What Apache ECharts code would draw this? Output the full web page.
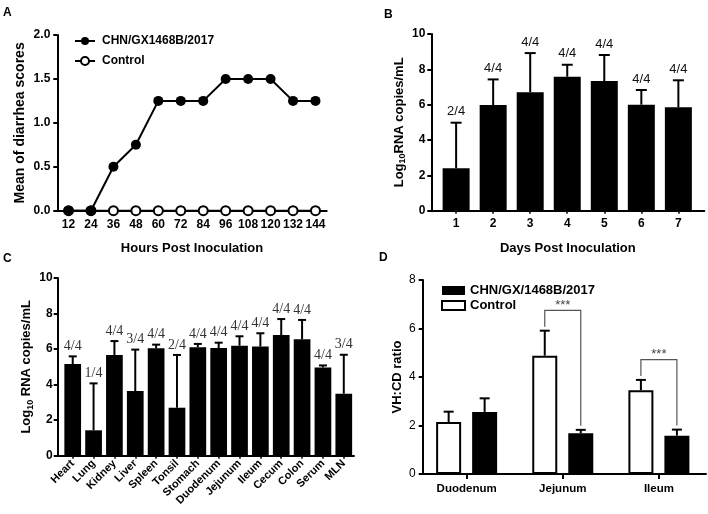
<!DOCTYPE html>
<html><head><meta charset="utf-8">
<script src="https://cdn.jsdelivr.net/npm/echarts@6/dist/echarts.min.js"></script>
<style>html,body{margin:0;padding:0;background:#fff}#c{width:708px;height:514px}</style>
</head><body><div id="c"></div>
<script>
// ---- Panel A: diarrhea scores ----
const hoursPostInoculation = [12, 24, 36, 48, 60, 72, 84, 96, 108, 120, 132, 144];
const diarrheaInfected = [0, 0, 0.5, 0.75, 1.25, 1.25, 1.25, 1.5, 1.5, 1.5, 1.25, 1.25];
const diarrheaControl = [0, 0, 0, 0, 0, 0, 0, 0, 0, 0, 0, 0];
// ---- Panel B: fecal shedding ----
const daysPostInoculation = [1, 2, 3, 4, 5, 6, 7];
const fecalMean = [2.40, 5.98, 6.71, 7.58, 7.34, 6.00, 5.85];
const fecalSD = [2.58, 1.45, 2.21, 0.68, 1.47, 0.83, 1.53];
const fecalPositive = ['2/4', '4/4', '4/4', '4/4', '4/4', '4/4', '4/4'];
// ---- Panel C: tissue distribution ----
const tissues = ['Heart', 'Lung', 'Kidney', 'Liver', 'Spleen', 'Tonsil', 'Stomach', 'Duodenum', 'Jejunum', 'Ileum', 'Cecum', 'Colon', 'Serum', 'MLN'];
const tissueMean = [5.16, 1.43, 5.67, 3.64, 6.04, 2.70, 6.10, 6.06, 6.19, 6.14, 6.79, 6.55, 4.97, 3.49];
const tissueSD = [0.43, 2.64, 0.78, 2.33, 0.21, 2.97, 0.19, 0.30, 0.53, 0.75, 0.90, 1.09, 0.11, 2.19];
const tissuePositive = ['4/4', '1/4', '4/4', '3/4', '4/4', '2/4', '4/4', '4/4', '4/4', '4/4', '4/4', '4/4', '4/4', '3/4'];
// ---- Panel D: VH:CD ratio ----
const intestineSegments = ['Duodenum', 'Jejunum', 'Ileum'];
const vhcdControlMean = [2.14, 4.88, 3.45];
const vhcdControlSD = [0.43, 1.03, 0.43];
const vhcdInfectedMean = [2.56, 1.68, 1.58];
const vhcdInfectedSD = [0.56, 0.14, 0.25];
const vhcdSignificance = ['', '***', '***'];
// ---- tick labels ----
const yTicksA = [0, 0.5, 1.0, 1.5, 2.0];

const SANS = '"Liberation Sans", Arial, Helvetica, sans-serif';
const SERIF = '"Liberation Serif", "Times New Roman", serif';
const BLACK = '#000';

const chart = echarts.init(document.getElementById('c'), null, { renderer: 'canvas' });

function axisLine() { return { show: true, onZero: false, lineStyle: { color: BLACK, width: 2 } }; }

function yAx(gi, min, max, interval, name, nameGap, labelOpts, nameStyle) {
  return {
    gridIndex: gi, type: 'value', min: min, max: max, interval: interval,
    axisLine: axisLine(),
    axisTick: { show: true, length: 4, lineStyle: { color: BLACK, width: 2 } },
    splitLine: { show: false },
    axisLabel: Object.assign({ color: BLACK, fontFamily: SANS, fontSize: 12, fontWeight: 'bold', margin: 6 }, labelOpts || {}),
    name: name, nameLocation: 'middle', nameRotate: 90, nameGap: nameGap,
    nameTextStyle: Object.assign({ color: BLACK, fontFamily: SANS, fontSize: 13, fontWeight: 'bold' }, nameStyle || {})
  };
}

const richLog = {
  a: { fontSize: 13, fontWeight: 'bold', fontFamily: SANS, color: BLACK, lineHeight: 16 },
  b: { fontSize: 9, fontWeight: 'bold', fontFamily: SANS, color: BLACK, lineHeight: 10, verticalAlign: 'bottom' }
};

function errorRenderer(labels, capW, xOff, font, color, gapAbove) {
  return function (params, api) {
    const x = api.value(0), m = api.value(1), sd = api.value(2);
    const p0 = api.coord([x, m]);
    const p1 = api.coord([x, m + sd]);
    const cx = p0[0] + (xOff || 0);
    const children = [
      { type: 'line', shape: { x1: cx, y1: p0[1], x2: cx, y2: p1[1] }, style: { stroke: BLACK, lineWidth: 2 } },
      { type: 'line', shape: { x1: cx - capW / 2, y1: p1[1], x2: cx + capW / 2, y2: p1[1] }, style: { stroke: BLACK, lineWidth: 2 } }
    ];
    if (labels) {
      children.push({
        type: 'text',
        style: { text: labels[params.dataIndex], x: cx, y: p1[1] - gapAbove, align: 'center', verticalAlign: 'middle', font: font, fill: color }
      });
    }
    return { type: 'group', children: children };
  };
}

const BAR_OFF = 18; // half distance between paired bars in panel D (px)

function bracketRenderer(params, api) {
  const g = api.value(0);
  const cTop = vhcdControlMean[g] + vhcdControlSD[g];
  const iTop = vhcdInfectedMean[g] + vhcdInfectedSD[g];
  const yB = api.coord([g, Math.max(cTop, iTop) + 0.84])[1];
  const yL = api.coord([g, cTop])[1] - 4;
  const yR = api.coord([g, iTop])[1] - 4;
  const xc = api.coord([g, 0])[0];
  const xL = xc - BAR_OFF, xR = xc + BAR_OFF;
  return {
    type: 'group', children: [
      { type: 'polyline', shape: { points: [[xL, yL], [xL, yB], [xR, yB], [xR, yR]] }, style: { stroke: '#555', lineWidth: 1.2, fill: null } },
      { type: 'text', style: { text: vhcdSignificance[g], x: (xL + xR) / 2, y: yB - 5, align: 'center', verticalAlign: 'middle', font: '13px ' + SANS, fill: '#444' } }
    ]
  };
}

const sigGroups = [];
vhcdSignificance.forEach((s, i) => { if (s) sigGroups.push([i]); });

const option = {
  animation: false,
  backgroundColor: '#fff',
  textStyle: { fontFamily: SANS },
  graphic: [
    { type: 'text', left: 3, top: 7, style: { text: 'A', font: 'bold 12px ' + SANS, fill: BLACK } },
    { type: 'text', left: 384, top: 9, style: { text: 'B', font: 'bold 12px ' + SANS, fill: BLACK } },
    { type: 'text', left: 3, top: 253, style: { text: 'C', font: 'bold 12px ' + SANS, fill: BLACK } },
    { type: 'text', left: 379, top: 252, style: { text: 'D', font: 'bold 12px ' + SANS, fill: BLACK } }
  ],
  legend: [
    {
      left: 69, top: 30, orient: 'vertical', itemGap: 8, itemWidth: 20, itemHeight: 10,
      data: ['CHN/GX1468B/2017', 'Control'],
      textStyle: { color: BLACK, fontFamily: SANS, fontSize: 12, fontWeight: 'bold', padding: [0, 0, 0, 2] },
      selectedMode: false
    },
    {
      left: 436, top: 279, orient: 'vertical', itemGap: 2, itemWidth: 23, itemHeight: 9, icon: 'rect',
      data: ['CHN/GX/1468B/2017', 'VH:CD Control'],
      formatter: n => n === 'VH:CD Control' ? 'Control' : n,
      textStyle: { color: BLACK, fontFamily: SANS, fontSize: 13, fontWeight: 'bold', padding: [0, 0, 0, 0] },
      selectedMode: false
    }
  ],
  grid: [
    { left: 57.3, top: 35, width: 269.4, height: 175.7 },
    { left: 431.3, top: 34, width: 273, height: 176.7 },
    { left: 57.7, top: 278, width: 296.3, height: 177.7 },
    { left: 422.7, top: 280, width: 283.3, height: 194 }
  ],
  xAxis: [
    {
      gridIndex: 0, type: 'value', min: 6, max: 150,
      axisLine: axisLine(), axisTick: { show: false }, splitLine: { show: false },
      axisLabel: { customValues: hoursPostInoculation, color: BLACK, fontFamily: SANS, fontSize: 12, fontWeight: 'bold', margin: 8 },
      name: 'Hours Post Inoculation', nameLocation: 'middle', nameGap: 31,
      nameTextStyle: { color: BLACK, fontFamily: SANS, fontSize: 13, fontWeight: 'bold' }
    },
    {
      gridIndex: 1, type: 'value', min: 0.33, max: 7.7,
      axisLine: axisLine(),
      axisTick: { show: true, customValues: daysPostInoculation, length: 3, lineStyle: { color: BLACK, width: 1.5 } },
      splitLine: { show: false },
      axisLabel: { customValues: daysPostInoculation, color: BLACK, fontFamily: SANS, fontSize: 12, fontWeight: 'bold', margin: 7 },
      name: 'Days Post Inoculation', nameLocation: 'middle', nameGap: 31,
      nameTextStyle: { color: BLACK, fontFamily: SANS, fontSize: 13, fontWeight: 'bold' }
    },
    {
      gridIndex: 2, type: 'value', min: -0.72, max: 13.49,
      axisLine: axisLine(),
      axisTick: { show: true, customValues: tissues.map((t, i) => i), length: 3, lineStyle: { color: BLACK, width: 1.5 } },
      splitLine: { show: false },
      axisLabel: {
        customValues: tissues.map((t, i) => i), formatter: v => tissues[Math.round(v)],
        rotate: 45, color: BLACK, fontFamily: SANS, fontSize: 11, fontWeight: 'bold', margin: 6
      }
    },
    {
      gridIndex: 3, type: 'value', min: -0.457, max: 2.49,
      axisLine: axisLine(),
      axisTick: { show: true, customValues: intestineSegments.map((t, i) => i), length: 5, lineStyle: { color: BLACK, width: 2 } },
      splitLine: { show: false },
      axisLabel: {
        customValues: intestineSegments.map((t, i) => i), formatter: v => intestineSegments[Math.round(v)],
        color: BLACK, fontFamily: SANS, fontSize: 11.5, fontWeight: 'bold', margin: 9
      }
    }
  ],
  yAxis: [
    yAx(0, 0, 2, 0.5, 'Mean of diarrhea scores', 30, { formatter: v => v.toFixed(1), customValues: yTicksA, margin: 7 }, { fontSize: 14 }),
    yAx(1, 0, 10, 2, '{a|Log}{b|10}{a|RNA copies/mL}', 24, { margin: 6 }, { rich: richLog }),
    yAx(2, 0, 10, 2, '{a|Log}{b|10}{a| RNA copies/mL}', 23, { margin: 5 }, { rich: richLog }),
    yAx(3, 0, 8, 2, 'VH:CD ratio', 19, { fontWeight: 'normal', fontSize: 12, margin: 7 }, {})
  ],
  series: [
    {
      name: 'Control', type: 'line', xAxisIndex: 0, yAxisIndex: 0, z: 2,
      data: hoursPostInoculation.map((h, i) => [h, diarrheaControl[i]]),
      symbol: 'circle', symbolSize: 9,
      itemStyle: { color: '#fff', borderColor: BLACK, borderWidth: 2 },
      lineStyle: { color: BLACK, width: 2 }
    },
    {
      name: 'CHN/GX1468B/2017', type: 'line', xAxisIndex: 0, yAxisIndex: 0, z: 3,
      data: hoursPostInoculation.map((h, i) => [h, diarrheaInfected[i]]),
      symbol: 'circle', symbolSize: 10,
      itemStyle: { color: BLACK },
      lineStyle: { color: BLACK, width: 2 }
    },
    {
      name: 'fecal', type: 'bar', xAxisIndex: 1, yAxisIndex: 1, barWidth: 27,
      data: daysPostInoculation.map((d, i) => [d, fecalMean[i]]),
      itemStyle: { color: BLACK }
    },
    {
      name: 'fecalErr', type: 'custom', xAxisIndex: 1, yAxisIndex: 1, z: 5,
      data: daysPostInoculation.map((d, i) => [d, fecalMean[i], fecalSD[i]]),
      encode: { x: 0, y: 1 },
      renderItem: errorRenderer(fecalPositive, 11, 0, '13px ' + SANS, '#111', 11)
    },
    {
      name: 'tissue', type: 'bar', xAxisIndex: 2, yAxisIndex: 2, barWidth: 16.7,
      data: tissues.map((t, i) => [i, tissueMean[i]]),
      itemStyle: { color: BLACK }
    },
    {
      name: 'tissueErr', type: 'custom', xAxisIndex: 2, yAxisIndex: 2, z: 5,
      data: tissues.map((t, i) => [i, tissueMean[i], tissueSD[i]]),
      encode: { x: 0, y: 1 },
      renderItem: errorRenderer(tissuePositive, 8, 0, '14px ' + SERIF, '#333', 10)
    },
    {
      name: 'VH:CD Control', type: 'bar', xAxisIndex: 3, yAxisIndex: 3, barWidth: 25, barGap: '44%',
      data: intestineSegments.map((s, i) => [i, vhcdControlMean[i]]),
      itemStyle: { color: '#fff', borderColor: BLACK, borderWidth: 2 }
    },
    {
      name: 'CHN/GX/1468B/2017', type: 'bar', xAxisIndex: 3, yAxisIndex: 3, barWidth: 25, barGap: '44%',
      data: intestineSegments.map((s, i) => [i, vhcdInfectedMean[i]]),
      itemStyle: { color: BLACK }
    },
    {
      name: 'ctrlErr', type: 'custom', xAxisIndex: 3, yAxisIndex: 3, z: 5,
      data: intestineSegments.map((s, i) => [i, vhcdControlMean[i], vhcdControlSD[i]]),
      encode: { x: 0, y: 1 },
      renderItem: errorRenderer(null, 10, -BAR_OFF)
    },
    {
      name: 'infErr', type: 'custom', xAxisIndex: 3, yAxisIndex: 3, z: 5,
      data: intestineSegments.map((s, i) => [i, vhcdInfectedMean[i], vhcdInfectedSD[i]]),
      encode: { x: 0, y: 1 },
      renderItem: errorRenderer(null, 10, BAR_OFF)
    },
    {
      name: 'sig', type: 'custom', xAxisIndex: 3, yAxisIndex: 3, z: 6,
      data: sigGroups,
      encode: { x: 0 },
      renderItem: bracketRenderer
    }
  ]
};
chart.setOption(option);
</script>
</body></html>
